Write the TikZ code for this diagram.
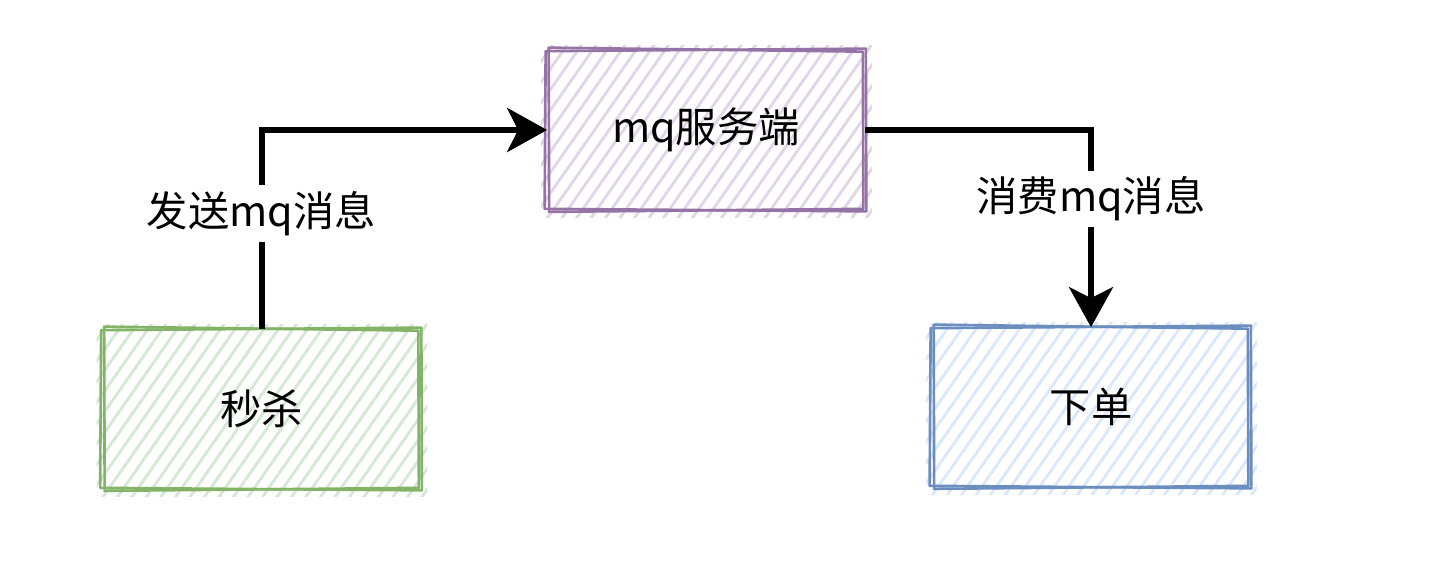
\documentclass[tikz,border=0pt]{standalone}
\usepackage{fontspec}
\setmainfont{Noto Sans CJK SC}
\usepackage{tikz}
\usetikzlibrary{arrows.meta, calc, backgrounds}
\definecolor{greenline}{HTML}{82B366}
\definecolor{greenfill}{HTML}{D5E8D4}
\definecolor{purpleline}{HTML}{9673A6}
\definecolor{purplefill}{HTML}{E1D5E7}
\definecolor{blueline}{HTML}{6C8EBF}
\definecolor{bluefill}{HTML}{DAE8FC}

% hatched, hand-drawn looking box round a named node: #1 node, #2 line colour, #3 hatch colour
\newcommand{\hatchbox}[3]{%
  \begin{scope}[on background layer]
    \begin{scope}
      \clip ($(#1.south west)+(-0.12,-0.16)$) rectangle ($(#1.north east)+(0.14,0.10)$);
      \foreach \k in {0,...,33}
        \draw[#3, line width=1.6pt] ($(#1.south west)+(-2.7+\k*0.29,-0.3)$) -- ++(55:4.8);
    \end{scope}
  \end{scope}
  \draw[#2, line width=1.5pt, line join=round]
    ($(#1.south west)+(-0.05,0.02)$) -- ($(#1.south east)+(0.03,-0.03)$)
    -- ($(#1.north east)+(0.02,0.03)$) -- ($(#1.north west)+(-0.03,-0.02)$) -- cycle;
  \draw[#2, line width=1.5pt, line join=round]
    ($(#1.south west)+(0.04,-0.04)$) -- ($(#1.south east)+(-0.03,0.02)$)
    -- ($(#1.north east)+(-0.04,-0.03)$) -- ($(#1.north west)+(0.03,0.05)$) -- cycle;
}

\begin{document}
\begin{tikzpicture}[
  sketchbox/.style={minimum width=6.34cm, minimum height=3.18cm, inner sep=0pt,
    font=\fontsize{23.5}{28}\selectfont},
  flow/.style={line width=0.12cm, -{Stealth[length=0.8cm, width=0.88cm, inset=0.22cm]}},
  flowlabel/.style={fill=white, inner xsep=0.04cm, inner ysep=0.12cm,
    font=\fontsize{23.5}{28}\selectfont}
]
\useasboundingbox (0,0) rectangle (28.88,11.36);

\node[sketchbox] (seckill)  at (5.23,3.18)  {秒杀};
\node[sketchbox] (mqserver) at (14.12,8.76) {mq服务端};
\node[sketchbox] (order)    at (21.82,3.22) {下单};

\hatchbox{seckill}{greenline}{greenfill}
\hatchbox{mqserver}{purpleline}{purplefill}
\hatchbox{order}{blueline}{bluefill}

\draw[flow] (seckill.north) |- (mqserver.west) node[flowlabel, pos=0.29] {发送mq消息};
\draw[flow] (mqserver.east) -| (order.north) node[flowlabel, pos=0.675] {消费mq消息};

\end{tikzpicture}
\end{document}
